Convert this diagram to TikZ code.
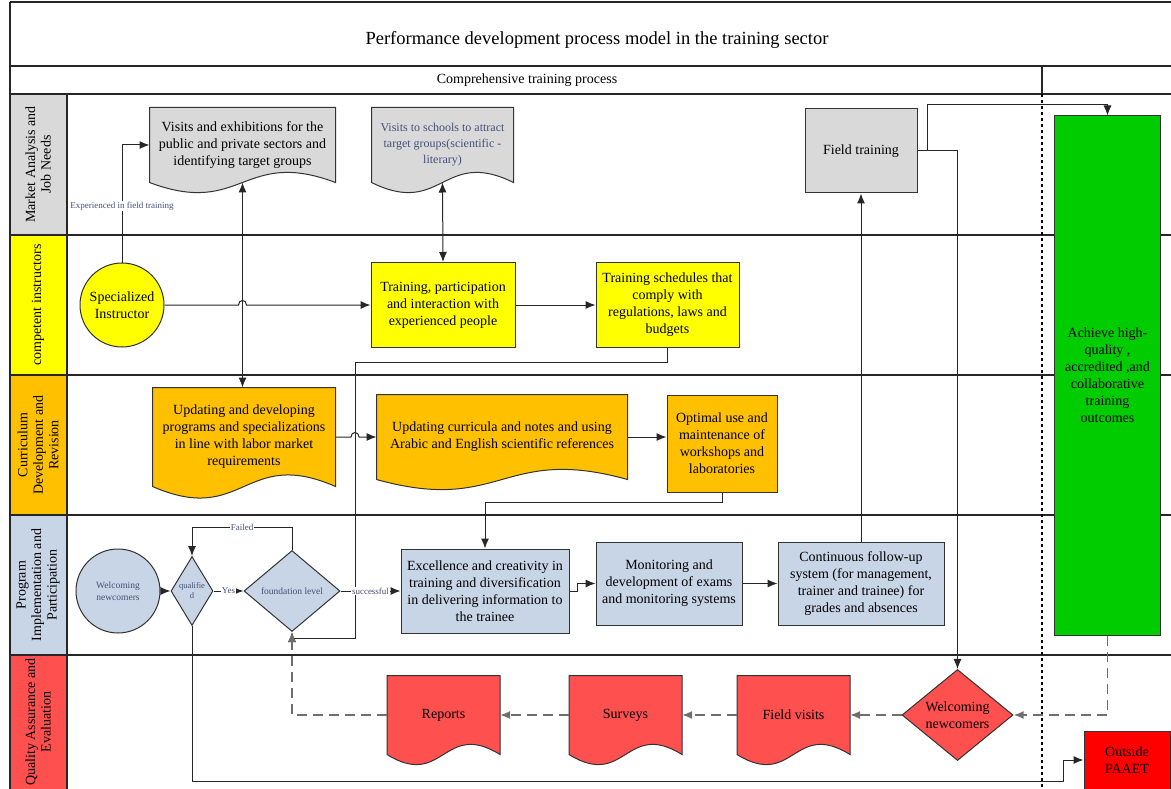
\documentclass[tikz,border=0pt]{standalone}
\usepackage{fontspec}
\setmainfont{Liberation Serif}
\usepackage{tikz}
\usetikzlibrary{arrows.meta}
\usetikzlibrary{shapes,backgrounds,calc}

\definecolor{lanegray}{RGB}{217,217,217}
\definecolor{laneyellow}{RGB}{255,255,0}
\definecolor{laneorange}{RGB}{255,192,0}
\definecolor{laneblue}{RGB}{200,213,230}
\definecolor{lanered}{RGB}{255,80,80}
\definecolor{outred}{RGB}{255,0,0}
\definecolor{goalgreen}{RGB}{0,204,0}
\definecolor{smalltext}{RGB}{70,80,120}
\definecolor{flowgray}{RGB}{110,110,110}

\newcommand{\fsz}[2]{\fontsize{#1}{#2}\selectfont}
\newcommand{\wavedoc}[3]{%
  \filldraw[fill=#2,draw=black!80,line width=1pt]
    (#1.north west) -- (#1.north east) -- (#1.south east)
    .. controls ($(#1.south)+(0,-#3)$) and ($(#1.south)+(0,#3)$) .. (#1.south west) -- cycle;}

\begin{document}
\begin{tikzpicture}[x=1pt,y=-1pt,>={Latex[length=10pt,width=8pt]},line width=1pt,
    lane line/.style={line width=1.4pt,black!85},
    lane label/.style={rotate=90,align=center,font=\fsz{14}{15.5}},
    box node/.style={rectangle,draw=black!80,align=center,inner sep=2pt,font=\fsz{14}{17}},
    doc node/.style={rectangle,align=center,inner sep=2pt,font=\fsz{14}{17}},
    edge label/.style={fill=white,inner sep=1pt,font=\fsz{9}{10},text=smalltext},
    flow/.style={->,black!85},
    back flow/.style={->,flowgray,line width=1.8pt,dash pattern=on 10pt off 6pt}]

\useasboundingbox (0,0) rectangle (1171,789);

% lanes
\fill[lanegray] (10,94) rectangle (67,235);
\fill[laneyellow] (10,235) rectangle (67,375);
\fill[laneorange] (10,375) rectangle (67,515);
\fill[laneblue] (10,515) rectangle (67,655);
\fill[lanered] (10,655) rectangle (67,789);
\foreach \y in {2,66,94,235,375,515,655}
  \draw[lane line] (10,\y) -- (1171,\y);
\draw[lane line] (10,2) -- (10,789);
\draw[lane line] (67,94) -- (67,789);
\draw[lane line] (1042,66) -- (1042,94);
\draw[line width=2.2pt,dash pattern=on 3pt off 3pt] (1042,94) -- (1042,789);

\node[font=\fsz{18.5}{20}] (title) at (597,40) {Performance development process model in the training sector};
\node[font=\fsz{14}{15}] (header) at (527,80) {Comprehensive training process};

\node[lane label] (l1) at (38,164.5) {Market Analysis and\\Job Needs};
\node[lane label] (l2) at (38,305) {competent instructors};
\node[lane label] (l3) at (38,445) {Curriculum\\Development and\\Revision};
\node[lane label] (l4) at (38,585) {Program\\Implementation and\\Participation};
\node[lane label] (l5) at (38,722) {Quality Assurance and\\Evaluation};

% steps
\node[doc node,minimum width=185pt,minimum height=74pt] (1) at (242.5,145) {Visits and exhibitions for the\\public and private sectors and\\identifying target groups};
\node[doc node,minimum width=141pt,minimum height=74pt,font=\fsz{12}{16},text=smalltext] (2) at (442.5,145) {Visits to schools to attract\\target groups(scientific -\\literary)};
\node[box node,fill=lanegray,minimum width=112pt,minimum height=84pt] (3) at (861,151) {Field training};
\node[box node,fill=goalgreen,minimum width=106pt,minimum height=519pt] (4) at (1107.5,375.5) {Achieve high-\\quality ,\\accredited ,and\\collaborative\\training\\outcomes};
\node[box node,circle,fill=laneyellow,minimum size=84pt,inner sep=0pt] (5) at (122,305) {Specialized\\Instructor};
\node[box node,fill=laneyellow,minimum width=144pt,minimum height=85pt] (6) at (443,305) {Training, participation\\and interaction with\\experienced people};
\node[box node,fill=laneyellow,minimum width=143pt,minimum height=85pt] (7) at (667.5,305) {Training schedules that\\comply with\\regulations, laws and\\budgets};
\node[doc node,minimum width=182pt,minimum height=98pt] (8) at (244,437) {Updating and developing\\programs and specializations\\in line with labor market\\requirements};
\node[doc node,minimum width=250pt,minimum height=84pt] (9) at (502,437) {Updating curricula and notes and using\\Arabic and English scientific references};
\node[box node,fill=laneorange,minimum width=110pt,minimum height=97pt] (10) at (722,443.5) {Optimal use and\\maintenance of\\workshops and\\laboratories};
\node[box node,circle,fill=laneblue,minimum size=84pt,inner sep=0pt,font=\fsz{9.5}{12},text=smalltext] (11) at (118,591) {Welcoming\\newcomers};
\node[box node,diamond,fill=laneblue,minimum width=41pt,minimum height=69pt,inner sep=0pt,font=\fsz{8.5}{10},text=smalltext] (12) at (192,591) {qualifie\\d};
\node[box node,diamond,fill=laneblue,minimum width=96pt,minimum height=81pt,inner sep=0pt,font=\fsz{9.5}{11},text=smalltext] (13) at (292,591) {foundation level};
\node[box node,fill=laneblue,minimum width=168pt,minimum height=84pt] (14) at (485,591) {Excellence and creativity in\\training and diversification\\in delivering information to\\the trainee};
\node[box node,fill=laneblue,minimum width=146pt,minimum height=83pt] (15) at (669,583.5) {Monitoring and\\development of exams\\and monitoring systems};
\node[box node,fill=laneblue,minimum width=166pt,minimum height=83pt] (16) at (861,583.5) {Continuous follow-up\\system (for management,\\trainer and trainee) for\\grades and absences};
\node[box node,diamond,fill=lanered,minimum width=111pt,minimum height=84pt,inner sep=0pt] (17) at (957.5,715) {Welcoming\\newcomers};
\node[doc node,minimum width=112pt,minimum height=78pt,left of=17,node distance=164pt] (18) {Field visits};
\node[doc node,minimum width=112pt,minimum height=78pt,left of=18,node distance=168pt] (19) {Surveys};
\node[doc node,minimum width=112pt,minimum height=78pt,left of=19,node distance=182pt] (20) {Reports};
\node[box node,fill=outred,minimum width=86pt,minimum height=58pt] (21) at (1127,760) {Outside\\PAAET};

\begin{scope}[on background layer]
  \wavedoc{1}{lanegray}{35}
  \wavedoc{2}{lanegray}{35}
  \wavedoc{8}{laneorange}{40}
  \wavedoc{9}{laneorange}{35}
  \wavedoc{18}{lanered}{35}
  \wavedoc{19}{lanered}{35}
  \wavedoc{20}{lanered}{35}
\end{scope}

\coordinate (j1) at (1.south |- 5.east);
\coordinate (k1) at (355,362);
\coordinate (k2) at (355,638);
\coordinate (j2) at (k1 |- 8.east);
\coordinate (m1) at (1063,781);

\draw[flow] (5.north) |- (1.west) node[edge label,pos=0.24] {Experienced in field training};
\draw[flow] (5.east) -- ([xshift=-4pt]j1) .. controls ([xshift=-4pt,yshift=6pt]j1) and ([xshift=4pt,yshift=6pt]j1) .. ([xshift=4pt]j1) -- (6.west);
\draw[flow,<->] (1.south) -- (1.south |- 8.north);
\draw[flow,<->] (2.south) -- (6.north);
\draw[flow] (7.south) |- (k1) -- (k2) -| (13.south);
\draw[flow] (8.east) -- ([xshift=-4pt]j2) .. controls ([xshift=-4pt,yshift=6pt]j2) and ([xshift=4pt,yshift=6pt]j2) .. ([xshift=4pt]j2) -- (9.west);
\draw[flow] (9.east) -- (9.east -| 10.west);
\draw[flow] (10.south) -- ([yshift=-10pt]10.south) -| (14.north);
\draw[flow] (14.east) -- ++(8,0) |- (15.west);
\draw[flow] (3.east) -- ++(10,0) |- ([yshift=11pt]4.north) -- (4.north);
\draw[flow] (3.east) -| (17.north);
\draw[flow] (13.north) -- ([yshift=23pt]13.north) -| (12.north) node[edge label,pos=0.25] {Failed};
\draw[flow] (12.south) |- (m1) |- (21.west);
\path[flow]
  (6) edge (7)
  (15) edge (16)
  (16) edge (3)
  (11) edge (12)
  (12) edge node[edge label] {Yes} (13)
  (13) edge node[edge label] {successful} (14);

\draw[back flow] (4.south) |- (17.east);
\path[back flow]
  (17) edge (18)
  (18) edge (19)
  (19) edge (20);
\draw[back flow] (20.west) -| (13.south);
\end{tikzpicture}
\end{document}
